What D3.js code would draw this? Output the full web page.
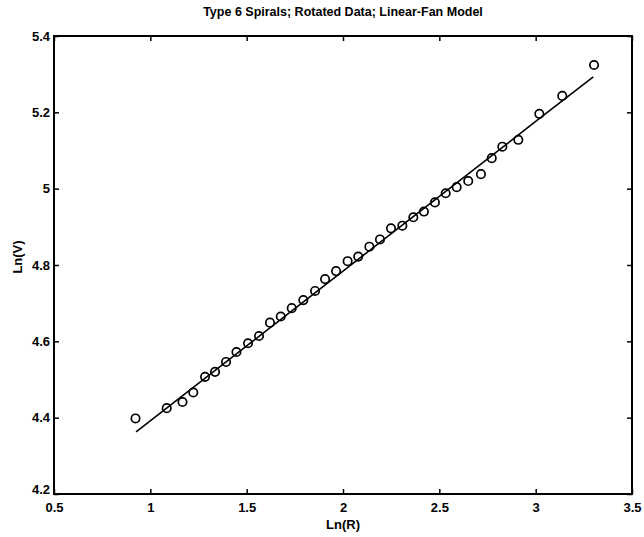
<!DOCTYPE html>
<html>
<head>
<meta charset="utf-8">
<script src="https://cdn.jsdelivr.net/npm/d3@7"></script>
<style>
  body { margin: 0; background: #fff; }
  svg text { font-family: "Liberation Sans", Arial, sans-serif; fill: #000; }
</style>
</head>
<body>
<svg id="chart" width="644" height="537"></svg>
<script>
var lnR = [0.923, 1.085, 1.167, 1.223, 1.284, 1.336, 1.393, 1.447, 1.507, 1.564,
           1.621, 1.677, 1.734, 1.794, 1.855, 1.907, 1.964, 2.024, 2.079, 2.137,
           2.192, 2.249, 2.308, 2.365, 2.420, 2.477, 2.533, 2.590, 2.650, 2.716,
           2.772, 2.827, 2.910, 3.019, 3.138, 3.303];
var lnV = [4.398, 4.425, 4.441, 4.466, 4.507, 4.520, 4.546, 4.572, 4.595, 4.614,
           4.649, 4.665, 4.687, 4.708, 4.732, 4.763, 4.784, 4.810, 4.822, 4.848,
           4.867, 4.896, 4.903, 4.925, 4.940, 4.964, 4.988, 5.004, 5.020, 5.038,
           5.080, 5.110, 5.128, 5.196, 5.243, 5.324];

// model line
var modelR = [0.926, 1.5, 2.0, 2.5, 3.0, 3.299];
var modelV = [4.363, 4.588, 4.784, 4.980, 5.176, 5.293];

var xTicks = [0.5, 1, 1.5, 2, 2.5, 3, 3.5];
var yTicks = [4.2, 4.4, 4.6, 4.8, 5, 5.2, 5.4];

var padLeft = 54, padRight = 632, padTop = 36, padBottom = 494;
var TICK = 5;

var svg = d3.select("#chart");
var x = d3.scaleLinear().domain([0.5, 3.5]).range([padLeft, padRight]);
var y = d3.scaleLinear().domain([4.2, 5.4]).range([padBottom, padTop]);

// box with inward ticks on all sides
function addAxis(axis, tx, ty, showLabels) {
    var g = svg.append("g").attr("transform", "translate(" + tx + "," + ty + ")").call(axis);
    g.select(".domain").remove();
    g.selectAll("line").attr("stroke", "#000").attr("stroke-width", 1.5);
    if (!showLabels) g.selectAll("text").remove();
    return g;
}
var fmt = d3.format("");
var gx = addAxis(d3.axisBottom(x).tickValues(xTicks).tickSizeInner(-TICK).tickSizeOuter(0)
    .tickPadding(9).tickFormat(fmt), 0, padBottom, true);
gx.selectAll("text").attr("font-size", 13).attr("font-weight", "bold");
addAxis(d3.axisTop(x).tickValues(xTicks).tickSizeInner(-TICK).tickSizeOuter(0), 0, padTop, false);
var gy = addAxis(d3.axisLeft(y).tickValues(yTicks).tickSizeInner(-TICK).tickSizeOuter(0)
    .tickPadding(4).tickFormat(fmt), padLeft, 0, true);
gy.selectAll("text").attr("font-size", 13).attr("font-weight", "bold");
// MATLAB-style: lowest y label nudged up
gy.selectAll(".tick").filter(function(d) { return d === 4.2; })
    .select("text").attr("dy", "-0.05em");
addAxis(d3.axisRight(y).tickValues(yTicks).tickSizeInner(-TICK).tickSizeOuter(0), padRight, 0, false);

svg.append("rect")
    .attr("x", padLeft).attr("y", padTop)
    .attr("width", padRight - padLeft).attr("height", padBottom - padTop)
    .attr("fill", "none").attr("stroke", "#000").attr("stroke-width", 2);

// model line
var line = d3.line().x(function(d) { return x(d[0]); }).y(function(d) { return y(d[1]); });
svg.append("path")
    .datum(d3.zip(modelR, modelV))
    .attr("d", line)
    .attr("fill", "none")
    .attr("stroke", "#000")
    .attr("stroke-width", 1.6);

// data circles
svg.append("g").selectAll("circle")
    .data(d3.zip(lnR, lnV))
    .enter()
    .append("circle")
    .attr("cx", function(d) { return x(d[0]); })
    .attr("cy", function(d) { return y(d[1]); })
    .attr("r", 4.2)
    .attr("fill", "none")
    .attr("stroke", "#000")
    .attr("stroke-width", 1.7);

// titles
svg.append("text")
    .attr("x", (padLeft + padRight) / 2).attr("y", 16)
    .attr("text-anchor", "middle")
    .attr("font-size", 12.5).attr("font-weight", "bold")
    .text("Type 6 Spirals; Rotated Data; Linear-Fan Model");
svg.append("text")
    .attr("x", (padLeft + padRight) / 2).attr("y", 529)
    .attr("text-anchor", "middle")
    .attr("font-size", 13).attr("font-weight", "bold")
    .text("Ln(R)");
svg.append("text")
    .attr("transform", "translate(22," + ((padTop + padBottom) / 2 - 8) + ") rotate(-90)")
    .attr("text-anchor", "middle")
    .attr("font-size", 13).attr("font-weight", "bold")
    .text("Ln(V)");
</script>
</body>
</html>
